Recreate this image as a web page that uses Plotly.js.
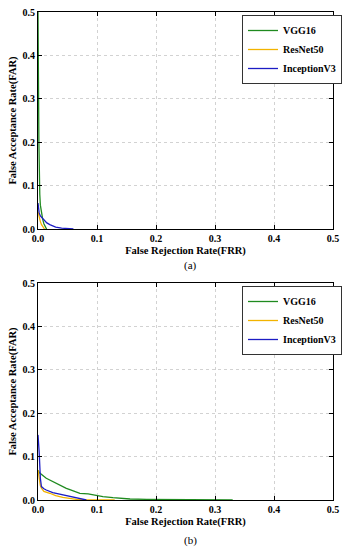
<!DOCTYPE html>
<html>
<head>
<meta charset="utf-8">
<script src="https://cdn.plot.ly/plotly-3.0.1.min.js"></script>
<style>html,body{margin:0;padding:0;background:#fff;}#chart{width:347px;height:550px;}</style>
</head>
<body>
<div id="chart"></div>
<script>
// ---- Data: panel (a) ----
const seriesNames = ["VGG16", "ResNet50", "InceptionV3"];
const seriesColors = ["#1f8a1f", "#f2b300", "#1c1cc4"];

const a_vgg_frr = [0, 0.0005, 0.001, 0.0015, 0.002, 0.003, 0.004, 0.006, 0.008, 0.010, 0.012, 0.014, 0.015];
const a_vgg_far = [0.5, 0.45, 0.30, 0.20, 0.12, 0.08, 0.055, 0.035, 0.022, 0.012, 0.005, 0.001, 0];

const a_res_frr = [0, 0.001, 0.002, 0.004, 0.006, 0.008, 0.010, 0.011];
const a_res_far = [0.040, 0.032, 0.025, 0.017, 0.010, 0.005, 0.001, 0];

const a_inc_frr = [0, 0.001, 0.002, 0.004, 0.007, 0.010, 0.015, 0.020, 0.025, 0.030, 0.040, 0.050, 0.060];
const a_inc_far = [0.060, 0.045, 0.037, 0.030, 0.025, 0.020, 0.014, 0.010, 0.007, 0.0045, 0.002, 0.0007, 0];

// ---- Data: panel (b) ----
const b_vgg_frr = [0, 0.003, 0.014, 0.025, 0.031, 0.048, 0.054, 0.065, 0.071, 0.085, 0.099, 0.110, 0.127, 0.139, 0.156, 0.184, 0.195, 0.25, 0.30, 0.33];
const b_vgg_far = [0.068, 0.062, 0.050, 0.042, 0.039, 0.027, 0.024, 0.019, 0.0154, 0.0139, 0.0099, 0.0076, 0.0053, 0.004, 0.0023, 0.0015, 0.0013, 0.0009, 0.0005, 0];

const b_res_frr = [0, 0.002, 0.004, 0.0058, 0.010, 0.020, 0.030, 0.042, 0.055, 0.065, 0.080, 0.100, 0.130];
const b_res_far = [0.069, 0.045, 0.033, 0.027, 0.020, 0.0155, 0.010, 0.006, 0.003, 0.0016, 0.0008, 0.0004, 0];

const b_inc_frr = [0, 0.001, 0.002, 0.004, 0.0058, 0.010, 0.014, 0.025, 0.042, 0.059, 0.070, 0.082];
const b_inc_far = [0.150, 0.135, 0.110, 0.050, 0.031, 0.026, 0.023, 0.017, 0.0116, 0.006, 0.003, 0];

const xTicks = [0, 0.1, 0.2, 0.3, 0.4, 0.5];
const yTicks = [0, 0.1, 0.2, 0.3, 0.4, 0.5];
const xTitle = "False Rejection Rate(FRR)";
const yTitle = "False Acceptance Rate(FAR)";
const panelLabels = ["(a)", "(b)"];

// ---- Build traces ----
function mk(x, y, i, xa, ya, leg) {
  return {x: x, y: y, type: "scatter", mode: "lines", name: seriesNames[i],
    line: {color: seriesColors[i], width: 1.3}, xaxis: xa, yaxis: ya, legend: leg,
    showlegend: true};
}
const traces = [
  mk(a_vgg_frr, a_vgg_far, 0, "x", "y", "legend"),
  mk(a_res_frr, a_res_far, 1, "x", "y", "legend"),
  mk(a_inc_frr, a_inc_far, 2, "x", "y", "legend"),
  mk(b_vgg_frr, b_vgg_far, 0, "x2", "y2", "legend2"),
  mk(b_res_frr, b_res_far, 1, "x2", "y2", "legend2"),
  mk(b_inc_frr, b_inc_far, 2, "x2", "y2", "legend2")
];

const W = 347, H = 550;
const px = v => v / W, py = v => 1 - v / H;
const serif = "Liberation Serif, Times New Roman, serif";
const tickFont = {family: serif, size: 10, color: "#000", weight: "bold"};
const titleFont = {family: serif, size: 10.5, color: "#000", weight: "bold"};

function xax(domain, anchor) {
  return {domain: domain, anchor: anchor, range: [0, 0.5], tickvals: xTicks, tickformat: ".1f",
    ticks: "inside", ticklen: 4, tickcolor: "#000", showline: true, linecolor: "#000", linewidth: 1,
    mirror: "ticks", showgrid: true, gridcolor: "#d2d2d2", griddash: "dot", gridwidth: 1,
    zeroline: false, tickfont: tickFont, ticklabelstandoff: 0,
    title: {text: xTitle, font: titleFont, standoff: 3}};
}
function yax(domain, anchor) {
  return {domain: domain, anchor: anchor, range: [0, 0.5], tickvals: yTicks, tickformat: ".1f",
    ticks: "inside", ticklen: 4, tickcolor: "#000", showline: true, linecolor: "#000", linewidth: 1,
    mirror: "ticks", showgrid: true, gridcolor: "#d2d2d2", griddash: "dot", gridwidth: 1,
    zeroline: false, tickfont: tickFont,
    title: {text: yTitle, font: titleFont, standoff: 3}};
}
const legendBase = {bgcolor: "#fff", bordercolor: "#333", borderwidth: 1,
  font: {family: serif, size: 10, color: "#000", weight: "bold"},
  xanchor: "left", yanchor: "top", tracegroupgap: 0, itemwidth: 30};

const layout = {
  width: W, height: H, margin: {l: 0, r: 0, t: 0, b: 0},
  paper_bgcolor: "#fff", plot_bgcolor: "#fff", showlegend: true,
  xaxis: xax([px(38), px(333)], "y"),
  yaxis: yax([py(229), py(12)], "x"),
  xaxis2: xax([px(38), px(333)], "y2"),
  yaxis2: yax([py(500), py(283)], "x2"),
  legend: Object.assign({}, legendBase, {x: px(242), y: py(15)}),
  legend2: Object.assign({}, legendBase, {x: px(242), y: py(286)}),
  annotations: [
    {text: panelLabels[0], xref: "paper", yref: "paper", x: 0.55, y: py(265), showarrow: false,
     font: {family: serif, size: 11, color: "#000"}, yanchor: "middle"},
    {text: panelLabels[1], xref: "paper", yref: "paper", x: 0.55, y: py(540), showarrow: false,
     font: {family: serif, size: 11, color: "#000"}, yanchor: "middle"}
  ]
};

Plotly.newPlot("chart", traces, layout, {staticPlot: true, displayModeBar: false});
</script>
</body>
</html>
